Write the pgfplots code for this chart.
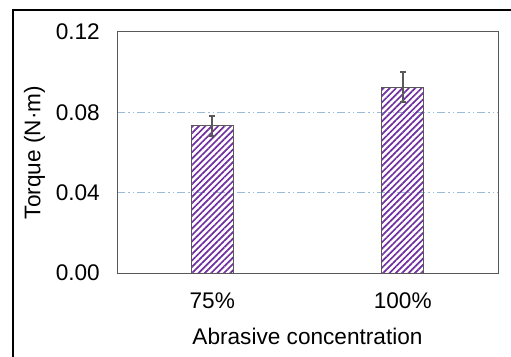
\documentclass[border=0pt]{standalone}
\usepackage{pgfplots}
\pgfplotsset{compat=1.18}
\usepackage{fontspec}
\setmainfont{Liberation Sans}
\usetikzlibrary{patterns.meta}
\definecolor{barpurple}{RGB}{112,48,160}
\definecolor{axgray}{RGB}{89,89,89}
\definecolor{gridblue}{RGB}{155,187,219}
\newcommand{\lblfont}{\fontsize{22.7}{26}\selectfont}
\begin{document}
\begin{tikzpicture}
\begin{axis}[name=ax, at={(0,0)}, anchor=south west,
  width=381bp, height=241bp, scale only axis,
  set layers=standard,
  ybar, bar width=42bp,
  xmin=-0.5, xmax=1.5, ymin=0, ymax=0.12,
  xtick={0,1}, xticklabels={75\%,100\%},
  ytick={0,0.04,0.08,0.12},
  /pgf/number format/assume math mode=true,
  yticklabel style={/pgf/number format/fixed, /pgf/number format/fixed zerofill, /pgf/number format/precision=2},
  major tick length=0pt,
  tick label style={font=\lblfont},
  x tick label style={inner sep=0pt, anchor=north, yshift=-20bp},
  y tick label style={inner sep=0pt, anchor=east, xshift=-17bp},
  axis line style={axgray, line width=1bp},
  ymajorgrids,
  major grid style={gridblue, line width=1bp, dash pattern=on 8bp off 3bp on 1.5bp off 3bp on 1.5bp off 3bp},
  xlabel={Abrasive concentration},
  ylabel={Torque (N·m)},
  every axis x label/.style={at={(axis description cs:0.5,0)}, anchor=center, yshift=-63.5bp, font=\lblfont},
  every axis y label/.style={at={(axis description cs:-0.2165,0.5)}, anchor=center, rotate=90, font=\lblfont},
]
\addplot[draw=axgray, line width=1bp,
  pattern={Lines[angle=45,distance=4.5bp,line width=1.7bp]}, pattern color=barpurple,
  error bars/.cd, y dir=both, y explicit,
  error bar style={line width=2bp, axgray},
  error mark options={rotate=90, mark size=3bp, line width=2bp, axgray}]
  coordinates {(0,0.0732) +- (0,0.0052) (1,0.0926) +- (0,0.0073)};
\end{axis}
\draw[line width=2.2bp, black] (-104bp,-84bp) -- (-104bp,263bp) -- (394bp,263bp);
\pgfresetboundingbox
\useasboundingbox (-117bp,-84bp) rectangle (394bp,273bp);
\end{tikzpicture}
\end{document}
